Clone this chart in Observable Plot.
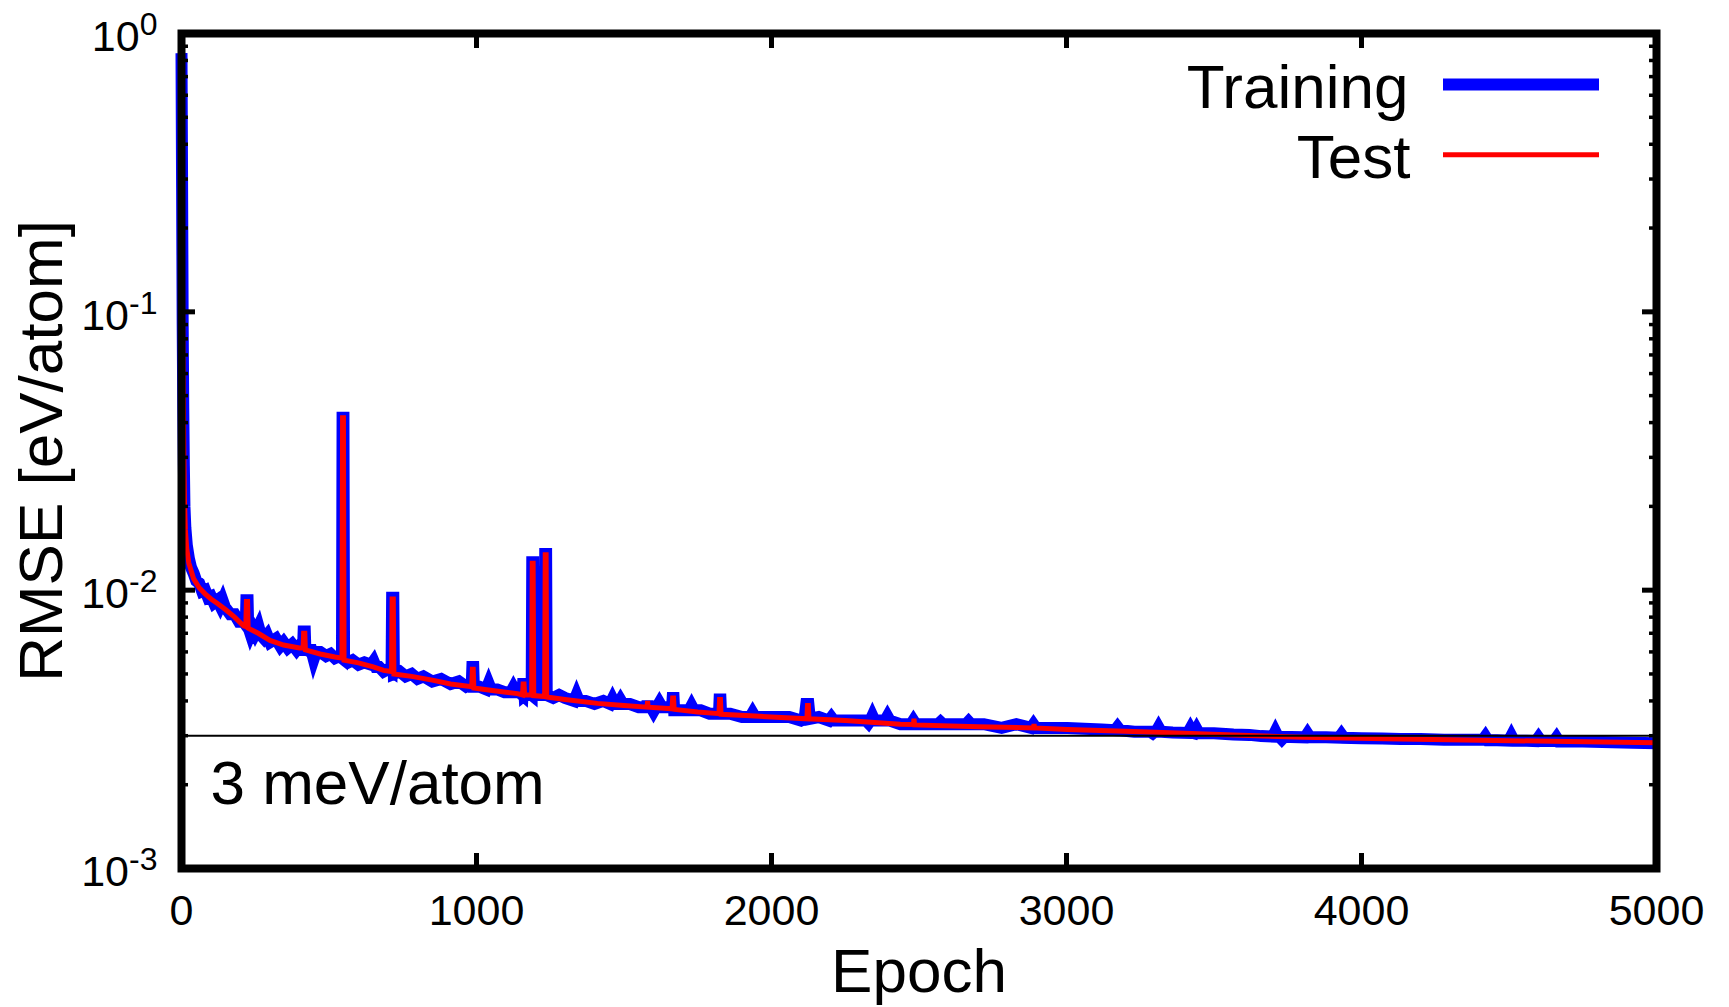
<!DOCTYPE html>
<html>
<head>
<meta charset="utf-8">
<script src="https://cdn.jsdelivr.net/npm/d3@7"></script>
<script src="https://cdn.jsdelivr.net/npm/@observablehq/plot@0.6"></script>
<style>
  html, body { margin: 0; padding: 0; background: #fff; overflow: hidden; }
</style>
</head>
<body>
<div id="chart"></div>
<script>
// ---------------- data ----------------
const seriesNames = ["Training", "Test"];
const xLabel = "Epoch";
const yLabel = "RMSE [eV/atom]";
const refLevel = 0.003;
const refLabel = "3 meV/atom";
const xTicks = [0, 1000, 2000, 3000, 4000, 5000];
const yMajorTicks = [1, 0.1, 0.01, 0.001];
const yMinorTicks = [0.9, 0.8, 0.7, 0.6, 0.5, 0.4, 0.3, 0.2,
                     0.09, 0.08, 0.07, 0.06, 0.05, 0.04, 0.03, 0.02,
                     0.009, 0.008, 0.007, 0.006, 0.005, 0.004, 0.003, 0.002];

// [epoch, RMSE]
const trainingRmse = [
  [0,0.85],[2,0.28],[4,0.09],[6,0.045],[8,0.028],[10,0.020],[13,0.0168],[18,0.0145],[25,0.0130],
  [32,0.0121],[41,0.0115],[50,0.0108],[60,0.0106],[70,0.0099],[80,0.0100],[90,0.0094],[100,0.0095],
  [110,0.0090],[122,0.0092],[131,0.0088],[139,0.0092],[147,0.0087],
  [165,0.0082],[180,0.0082],[195,0.0077],[210,0.0077],[218,0.0075],[220,0.0092],[224,0.0092],[226,0.0074],
  [234,0.00697],[242,0.0073],[250,0.0070],[253,0.0071],[261,0.0074],[269,0.0069],
  [280,0.0067],[290,0.0069],[300,0.0065],[320,0.0067],[335,0.0063],[346,0.0065],[360,0.0062],
  [375,0.0064],[390,0.0061],[400,0.0063],[412,0.0062],[414,0.0071],[418,0.0071],[420,0.0061],
  [440,0.0061],[448,0.00566],[456,0.0060],[470,0.0060],[490,0.0058],[505,0.0059],[520,0.0057],
  [535,0.0058],[544,0.0057],[546,0.0416],[549,0.0416],[551,0.0057],[565,0.0055],[580,0.0056],
  [600,0.0054],[620,0.0055],[643,0.0054],[651,0.00555],[659,0.0053],[670,0.0053],[685,0.0051],
  [700,0.0052],[712,0.0051],[714,0.0094],[718,0.0094],[720,0.0050],[740,0.0051],[760,0.0049],
  [780,0.0050],[800,0.0048],[820,0.0049],[850,0.0047],[880,0.0048],[912,0.0046],[940,0.0047],
  [965,0.0045],[984,0.0046],[986,0.0053],[989,0.0053],[991,0.0045],[1010,0.0045],[1033,0.0044],
  [1041,0.00462],[1049,0.0044],[1070,0.0044],[1095,0.0043],[1117,0.0043],[1125,0.00446],[1133,0.0043],
  [1145,0.0043],[1156,0.0042],[1158,0.0046],[1161,0.0046],[1163,0.0042],[1175,0.0043],[1187,0.0042],
  [1189,0.0126],[1192,0.0126],[1194,0.0042],[1210,0.0042],[1231,0.0042],[1233,0.0135],[1236,0.0135],
  [1238,0.0042],[1260,0.0041],[1280,0.0042],[1300,0.0041],[1331,0.0040],[1339,0.0042],[1347,0.0040],
  [1370,0.0040],[1400,0.0039],[1430,0.0040],[1453,0.0039],[1461,0.00406],[1469,0.0039],[1480,0.0039],
  [1488,0.00403],[1496,0.0039],[1520,0.0039],[1550,0.0038],[1578,0.0038],[1580,0.0040],[1582,0.0038],
  [1592,0.0038],[1600,0.00367],[1608,0.0038],[1612,0.0038],[1620,0.00393],[1628,0.0038],[1645,0.0038],
  [1663,0.0038],[1665,0.0041],[1668,0.0041],[1670,0.0037],[1700,0.0037],[1721,0.0037],[1729,0.00384],
  [1737,0.0037],[1760,0.0037],[1790,0.0036],[1822,0.0036],[1824,0.00405],[1827,0.00405],[1829,0.0036],
  [1860,0.0036],[1900,0.0035],[1928,0.0035],[1936,0.00362],[1944,0.0035],[1980,0.0035],[2020,0.0035],
  [2060,0.0035],[2100,0.0034],[2112,0.00345],[2118,0.0039],[2125,0.0039],[2130,0.00345],[2160,0.0035],
  [2195,0.0034],[2203,0.00349],[2211,0.0034],[2250,0.0034],[2290,0.0034],[2321,0.0034],[2329,0.00333],
  [2335,0.0034],[2342,0.00353],[2349,0.0034],[2385,0.0034],[2393,0.00352],[2401,0.0034],[2437,0.0033],
  [2473,0.0033],[2481,0.0034],[2489,0.0033],[2530,0.0033],[2565,0.0033],[2573,0.00336],[2581,0.0033],
  [2620,0.0033],[2660,0.0033],[2668,0.00337],[2676,0.0033],[2720,0.0033],[2780,0.0032],[2830,0.0033],
  [2880,0.0032],[2888,0.00329],[2896,0.0032],[2950,0.0032],[3003,0.0032],[3060,0.00318],[3120,0.00316],
  [3165,0.00314],[3173,0.00322],[3181,0.00314],[3230,0.0031],[3284,0.0031],[3292,0.00306],[3298,0.0031],
  [3304,0.0031],[3312,0.00321],[3320,0.0031],[3360,0.00308],[3412,0.00307],[3420,0.00318],[3428,0.00307],
  [3433,0.00306],[3441,0.00317],[3449,0.00306],[3500,0.00306],[3566,0.00303],[3620,0.00302],[3660,0.00299],
  [3700,0.00298],[3708,0.0031],[3716,0.00298],[3722,0.00297],[3730,0.00291],[3738,0.00297],[3760,0.00297],
  [3809,0.00296],[3817,0.00305],[3825,0.00296],[3880,0.00296],[3924,0.00295],[3932,0.00303],[3940,0.00295],
  [4000,0.00294],[4070,0.00293],[4132,0.00292],[4200,0.00292],[4280,0.00290],[4350,0.00290],[4412,0.0029],
  [4420,0.00298],[4428,0.00289],[4460,0.00289],[4500,0.00288],[4508,0.00299],[4516,0.00288],[4560,0.00288],
  [4592,0.00287],[4600,0.00295],[4608,0.00287],[4653,0.00287],[4661,0.00295],[4669,0.00286],[4750,0.00286],
  [4850,0.00284],[4920,0.00283],[5000,0.00282]
];

const testRmse = [
  [0,0.85],[2,0.30],[4,0.10],[6,0.05],[8,0.03],[10,0.021],[13,0.0165],[18,0.0140],[25,0.0125],
  [41,0.0110],[60,0.0102],[80,0.0097],[100,0.0093],[122,0.00895],[150,0.0085],[180,0.0080],
  [210,0.00745],[218,0.0074],[220,0.0091],[224,0.0091],[226,0.0073],[260,0.0070],[300,0.0066],
  [346,0.00635],[400,0.0062],[412,0.0062],[414,0.0070],[418,0.0070],[420,0.0061],[470,0.0059],
  [520,0.00575],[544,0.0057],[546,0.0416],[549,0.0416],[551,0.0056],[600,0.00548],[650,0.0053],
  [685,0.00515],[712,0.0051],[714,0.0093],[718,0.0093],[720,0.0050],[780,0.0049],[850,0.00475],
  [912,0.0046],[984,0.0045],[986,0.0052],[989,0.0052],[991,0.00445],[1060,0.00435],[1139,0.00425],
  [1156,0.0042],[1158,0.0046],[1161,0.0046],[1163,0.0042],[1187,0.0042],[1189,0.0125],[1192,0.0125],
  [1194,0.00418],[1231,0.00415],[1233,0.0134],[1236,0.0134],[1238,0.00413],[1300,0.00405],[1410,0.00392],
  [1500,0.00385],[1578,0.0038],[1580,0.0040],[1582,0.0038],[1663,0.00375],[1665,0.0041],[1668,0.0041],
  [1670,0.00373],[1750,0.00365],[1822,0.0036],[1824,0.00405],[1827,0.00405],[1829,0.00358],[1929,0.00354],
  [2000,0.0035],[2120,0.00345],[2122,0.00385],[2125,0.00385],[2127,0.00345],[2250,0.0034],[2437,0.0033],
  [2481,0.00329],[2483,0.00345],[2485,0.00328],[2700,0.00323],[2888,0.0032],[2890,0.0033],[2892,0.0032],
  [3003,0.00316],[3200,0.00311],[3400,0.00306],[3566,0.00302],[3800,0.00296],[4132,0.00292],
  [4400,0.00289],[4700,0.00286],[5000,0.00283]
];

// legend line vertical positions (in RMSE units, inside the top-right corner)
const legendRmse = [0.656, 0.367];

// ---------------- chart ----------------
const training = trainingRmse.map(([epoch, rmse]) => ({epoch, rmse}));
const test = testRmse.map(([epoch, rmse]) => ({epoch, rmse}));

const W = 1729, H = 1007;
const mL = 181, mR = 73, mT = 33, mB = 139;
const pw = W - mL - mR, ph = H - mT - mB;
const font = "'Liberation Sans', Arial, Helvetica, sans-serif";

const chart = Plot.plot({
  width: W, height: H,
  marginLeft: mL, marginRight: mR, marginTop: mT, marginBottom: mB,
  style: {fontFamily: font, background: "#ffffff", color: "#000000", overflow: "visible"},
  x: {domain: [0, 5000]},
  y: {type: "log", domain: [0.001, 1]},
  marks: [
    Plot.line(training, {x: "epoch", y: "rmse", stroke: "#0000ff", strokeWidth: 12,
      strokeLinejoin: "miter", strokeMiterlimit: 4, strokeLinecap: "butt"}),
    Plot.line(test, {x: "epoch", y: "rmse", stroke: "#ff0000", strokeWidth: 5,
      strokeLinejoin: "miter", strokeMiterlimit: 2, strokeLinecap: "butt"}),
    Plot.ruleY([refLevel], {stroke: "#000000", strokeWidth: 2}),
    Plot.frame({stroke: "#000000", strokeWidth: 8}),
    // inward ticks on all four sides
    Plot.tickX(xTicks, {x: d => d, insetTop: ph - 15, stroke: "#000000", strokeWidth: 5}),
    Plot.tickX(xTicks, {x: d => d, insetBottom: ph - 15, stroke: "#000000", strokeWidth: 5}),
    Plot.tickY(yMajorTicks, {y: d => d, insetRight: pw - 14, stroke: "#000000", strokeWidth: 5}),
    Plot.tickY(yMajorTicks, {y: d => d, insetLeft: pw - 14, stroke: "#000000", strokeWidth: 5}),
    Plot.tickY(yMinorTicks, {y: d => d, insetRight: pw - 7, stroke: "#000000", strokeWidth: 3.5}),
    Plot.tickY(yMinorTicks, {y: d => d, insetLeft: pw - 7, stroke: "#000000", strokeWidth: 3.5}),
    Plot.axisX({ticks: xTicks, tickSize: 0, tickPadding: 26, fontSize: 43, label: null,
      tickFormat: d => String(d)}),
    Plot.axisY({ticks: yMajorTicks, tickSize: 0, tickPadding: 24, fontSize: 43, label: null, dy: 4,
      tickFormat: d => "10^" + Math.round(Math.log10(d))}),
    // axis titles and annotation
    Plot.text([xLabel], {frameAnchor: "bottom", dy: 104, fontSize: 62,
      textAnchor: "middle", lineAnchor: "middle"}),
    Plot.text([yLabel], {frameAnchor: "left", rotate: -90, dx: -139, fontSize: 62,
      textAnchor: "middle", lineAnchor: "middle"}),
    Plot.text([refLabel], {frameAnchor: "bottom-left", dx: 29, dy: -84, fontSize: 62,
      textAnchor: "start", lineAnchor: "middle"}),
    // legend
    Plot.text([seriesNames[0]], {frameAnchor: "top-right", dx: -248, dy: 55, fontSize: 62,
      textAnchor: "end", lineAnchor: "middle"}),
    Plot.text([seriesNames[1]], {frameAnchor: "top-right", dx: -246, dy: 125, fontSize: 62,
      textAnchor: "end", lineAnchor: "middle"}),
    Plot.tickY([legendRmse[0]], {y: d => d, insetLeft: 1443 - mL, insetRight: W - mR - 1599,
      stroke: "#0000ff", strokeWidth: 12}),
    Plot.tickY([legendRmse[1]], {y: d => d, insetLeft: 1443 - mL, insetRight: W - mR - 1599,
      stroke: "#ff0000", strokeWidth: 5})
  ]
});

// render "10^n" tick labels with real superscripts
d3.select(chart).selectAll('g[aria-label="y-axis tick label"] text').each(function() {
  const s = this.textContent;
  const m = s.match(/^10\^(-?\d+)$/);
  if (!m) return;
  const t = d3.select(this);
  t.text(null);
  t.append("tspan").text("10");
  t.append("tspan").attr("dy", -16).attr("font-size", 32).text(m[1]);
});

document.getElementById("chart").appendChild(chart);
</script>
</body>
</html>
